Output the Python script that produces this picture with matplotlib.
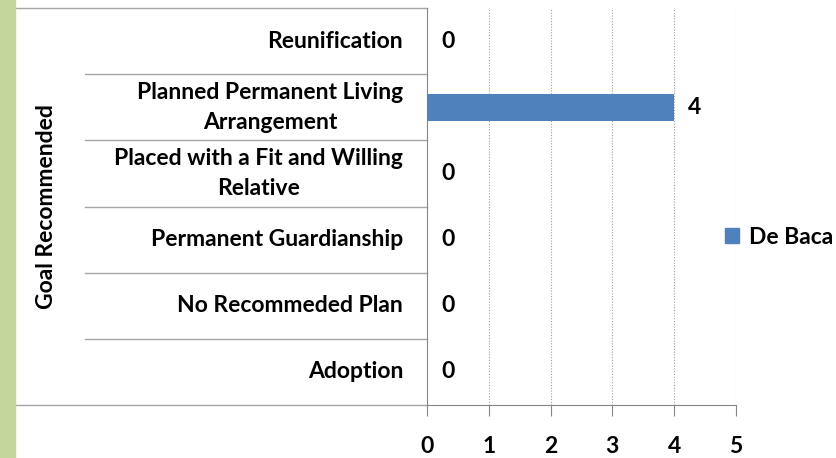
import matplotlib.pyplot as plt
import matplotlib.transforms as mtransforms
from matplotlib.patches import Rectangle, Patch
from matplotlib.lines import Line2D

# categories listed bottom to top
goals = ["Adoption", "No Recommeded Plan", "Permanent Guardianship",
         "Placed with a Fit and Willing\nRelative",
         "Planned Permanent Living\nArrangement", "Reunification"]
counts = [0, 0, 0, 0, 4, 0]
series_name = "De Baca"
xticks = [0, 1, 2, 3, 4, 5]

plt.rcParams['font.family'] = ['Lato', 'DejaVu Sans']
bar_color = '#4F81BD'
line_gray = '#A6A6A6'
fs = 16.5

fig = plt.figure(figsize=(8.36, 4.58), dpi=100)
W, H = 836, 458
ax = fig.add_axes([427 / W, 1 - 405 / H, (736 - 427) / W, (405 - 8) / H])

# green strip on the left edge
fig.patches.append(Rectangle((0, 0), 15 / W, 1, transform=fig.transFigure,
                             color='#C3D69B', zorder=0))

ypos = list(range(len(goals)))
ax.barh(ypos, counts, height=0.41, color=bar_color, zorder=3)
for y, v in zip(ypos, counts):
    ax.annotate(str(v), (v, y), xytext=(10, 0), textcoords='offset points',
                ha='left', va='center', fontsize=fs, fontweight='bold')

ax.set_xlim(0, 5)
ax.set_ylim(-0.5, len(goals) - 0.5)
ax.set_xticks(xticks)
ax.set_xticklabels([str(t) for t in xticks], fontsize=fs, fontweight='bold')
ax.tick_params(axis='x', length=8, direction='out', color='#868686', pad=14.5)
ax.set_yticks([])
for x in xticks[1:]:
    ax.axvline(x, color='#A0A0A0', linestyle=(0, (1, 1.5)), linewidth=0.8, zorder=1)

for s in ['top', 'right']:
    ax.spines[s].set_visible(False)
ax.spines['left'].set_color('#868686')
ax.spines['bottom'].set_color('#868686')

# category labels and separator lines to the left of the axis
trans = mtransforms.blended_transform_factory(fig.transFigure, ax.transData)
for y, g in zip(ypos, goals):
    ax.text(403 / W, y, g, transform=trans, ha='right', va='center',
            multialignment='center', fontsize=fs, fontweight='bold',
            linespacing=1.5)
for b in [y + 0.5 for y in ypos[:-1]]:
    ax.add_line(Line2D([85 / W, 427 / W], [b, b], transform=trans,
                       color=line_gray, linewidth=1, clip_on=False))
top = len(goals) - 0.5
ax.add_line(Line2D([15 / W, 427 / W], [top, top], transform=trans,
                   color=line_gray, linewidth=1, clip_on=False))
ax.add_line(Line2D([15 / W, 427 / W], [-0.5, -0.5], transform=trans,
                   color=line_gray, linewidth=1, clip_on=False))

fig.text(47 / W, 1 - 207 / H, "Goal Recommended", rotation=90,
         ha='center', va='center', fontsize=fs, fontweight='bold')

fig.legend(handles=[Patch(color=bar_color, label=series_name)],
           loc='center left', bbox_to_anchor=(725 / W, 1 - 237 / H),
           frameon=False, prop={'size': fs, 'weight': 'bold'},
           handlelength=0.6, handleheight=0.6, handletextpad=0.45,
           borderaxespad=0, borderpad=0)

fig.savefig('out.png', dpi=100)
